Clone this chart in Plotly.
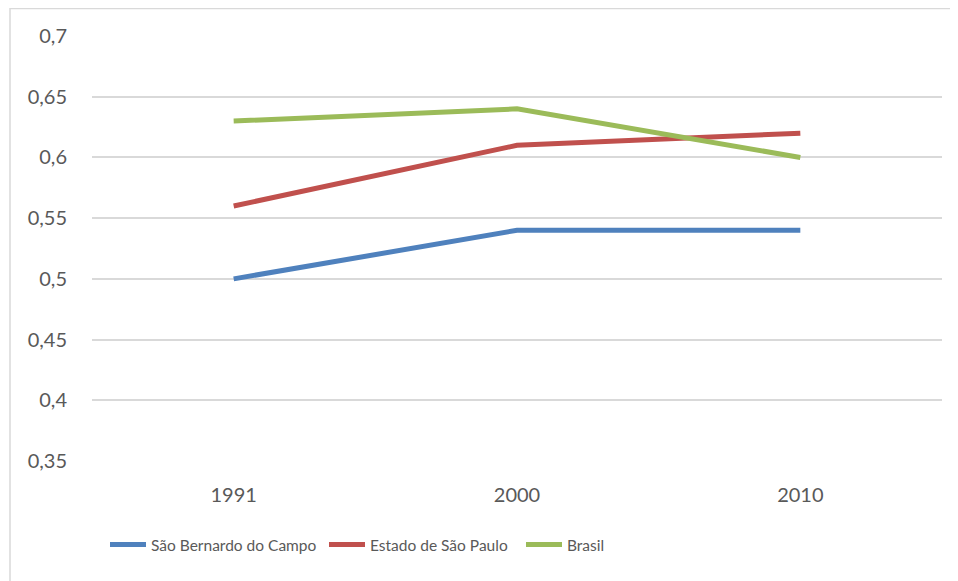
import plotly.graph_objects as go

years = ["1991", "2000", "2010"]
sao_bernardo = [0.50, 0.54, 0.54]
estado_sp = [0.56, 0.61, 0.62]
brasil = [0.63, 0.64, 0.60]
series_names = ["São Bernardo do Campo", "Estado de São Paulo", "Brasil"]
colors = ["#4F81BD", "#C0504D", "#9BBB59"]
y_ticks = [0.35, 0.4, 0.45, 0.5, 0.55, 0.6, 0.65, 0.7]

tick_font = "Lato, 'Open Sans', sans-serif"
legend_font = "Lato, 'Open Sans', sans-serif"

# page body has an 8px margin; figure drawn in page coords offset by 8
OFF = 8
W, H = 958 - OFF, 581 - OFF
ml, mt = 92 - OFF, 36 - OFF
pr, pb = 942 - OFF, 461 - OFF
mr, mb = W - pr, H - pb
pw, ph = pr - ml, pb - mt

def px_x(p):
    return (p - OFF - ml) / pw

def px_y(p):
    return 1 - (p - OFF - mt) / ph

legend_ids = ["legend", "legend2", "legend3"]
legend_starts = [111, 330, 527]

fig = go.Figure()
for name, vals, col, lid in zip(series_names, [sao_bernardo, estado_sp, brasil], colors, legend_ids):
    fig.add_trace(go.Scatter(x=years, y=vals, mode="lines", name=name, legend=lid,
                             line=dict(color=col, width=5)))

legend_common = dict(orientation="h", xanchor="left", yanchor="middle", y=px_y(545),
                     font=dict(family=legend_font, size=15.5, color="#595959"),
                     itemwidth=36, bgcolor="rgba(0,0,0,0)", borderwidth=0)

layout_legends = {}
for lid, sx in zip(legend_ids, legend_starts):
    layout_legends[lid] = dict(legend_common, x=px_x(sx - 6))

fig.update_layout(
    width=W, height=H,
    margin=dict(l=ml, r=mr, t=mt, b=mb),
    paper_bgcolor="white", plot_bgcolor="white",
    separators=",.",
    font=dict(family=tick_font, color="#595959", size=20),
    showlegend=True,
    xaxis=dict(type="category", range=[-0.5, 2.5], showgrid=False, showline=False,
               zeroline=False, ticks="", ticklabelstandoff=20,
               tickfont=dict(size=20, color="#595959")),
    yaxis=dict(range=[0.35, 0.7], tickvals=y_ticks, showgrid=True, gridcolor="#D9D9D9",
               gridwidth=1.5, zeroline=False, showline=False,
               ticks="outside", ticklen=20, tickcolor="rgba(0,0,0,0)",
               tickfont=dict(size=20, color="#595959")),
    shapes=[dict(type="rect", xref="paper", yref="paper",
                 x0=px_x(10), x1=px_x(1000), y0=px_y(640), y1=px_y(8.5),
                 line=dict(color="#D9D9D9", width=1.5), fillcolor="rgba(0,0,0,0)",
                 layer="below")],
    **layout_legends,
)

fig.write_html("out.html")
